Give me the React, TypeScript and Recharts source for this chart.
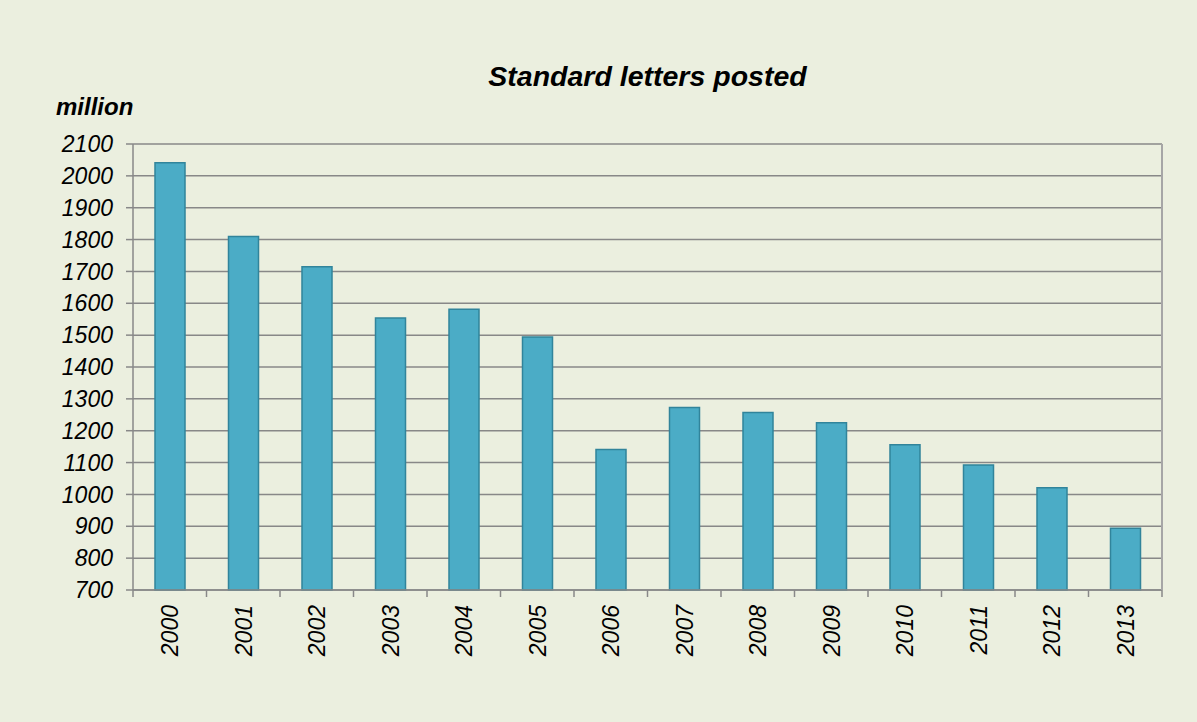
import React from 'react';
import { BarChart, Bar, XAxis, YAxis, CartesianGrid } from 'recharts';

const years = ['2000', '2001', '2002', '2003', '2004', '2005', '2006', '2007', '2008', '2009', '2010', '2011', '2012', '2013'];
const letters = [2041, 1810, 1715, 1554, 1581, 1494, 1141, 1273, 1257, 1225, 1156, 1092, 1021, 894];
const yTicks = [700, 800, 900, 1000, 1100, 1200, 1300, 1400, 1500, 1600, 1700, 1800, 1900, 2000, 2100];

const data = years.map((year, i) => ({ year, letters: letters[i] }));

const BG = '#ebefdf';
const GRID = '#888888';
const FONT = '"Liberation Sans", Arial, sans-serif';
const PLOT_W = 1197 - 133 - 35;

const YearTick = (props: any) => {
  const { x, y, payload, index } = props;
  const half = payload.offset || PLOT_W / years.length / 2;
  return (
    <g>
      <line x1={x - half} x2={x - half} y1={y} y2={y + 7} stroke={GRID} strokeWidth={1.5} />
      {index === years.length - 1 && (
        <line x1={x + half} x2={x + half} y1={y} y2={y + 7} stroke={GRID} strokeWidth={1.5} />
      )}
      <g transform={`translate(${x},${y + 15}) rotate(-90)`}>
        <text x={0} y={0} dy="0.36em" textAnchor="end" fontSize={23} fontStyle="italic" fill="#000" fontFamily={FONT}>
          {payload.value}
        </text>
      </g>
    </g>
  );
};

export default function App() {
  return (
    <div style={{ position: 'relative', width: 1197, height: 722, background: BG, fontFamily: FONT }}>
      <style>{'body{margin:0}'}</style>
      <div style={{ position: 'absolute', left: 0, width: 1295, top: 62, lineHeight: 1, fontSize: 28.5, fontWeight: 'bold', fontStyle: 'italic', textAlign: 'center' }}>
        Standard letters posted
      </div>
      <div style={{ position: 'absolute', left: 56, top: 95, lineHeight: 1, fontSize: 24, fontWeight: 'bold', fontStyle: 'italic' }}>
        million
      </div>
      <BarChart width={1197} height={722} data={data} margin={{ top: 144, right: 34, bottom: 0, left: 0 }}>
        <CartesianGrid vertical={false} stroke={GRID} strokeWidth={1.5} yAxisId="left" />
        <XAxis
          xAxisId="top"
          orientation="top"
          dataKey="year"
          height={0}
          tick={false}
          tickLine={false}
          axisLine={{ stroke: '#a6a6a6', strokeWidth: 2 }}
        />
        <XAxis
          xAxisId="cat"
          dataKey="year"
          height={132}
          tickLine={false}
          tickSize={0}
          tickMargin={0}
          axisLine={{ stroke: GRID, strokeWidth: 1.5 }}
          tick={<YearTick />}
          interval={0}
        />
        <YAxis
          yAxisId="left"
          width={133}
          domain={[700, 2100]}
          ticks={yTicks}
          interval={0}
          tickSize={7}
          tickMargin={13}
          tickLine={{ stroke: GRID, strokeWidth: 1.5 }}
          axisLine={{ stroke: GRID, strokeWidth: 1.5 }}
          tick={{ fill: '#000', fontSize: 23, fontStyle: 'italic', fontFamily: FONT }}
        />
        <YAxis
          yAxisId="right"
          orientation="right"
          width={1}
          domain={[700, 2100]}
          tick={false}
          tickLine={false}
          axisLine={{ stroke: '#a6a6a6', strokeWidth: 2 }}
        />
        <Bar
          xAxisId="cat"
          yAxisId="left"
          dataKey="letters"
          fill="#4bacc6"
          stroke="#31849b"
          strokeWidth={1.5}
          barSize={30}
          isAnimationActive={false}
        />
      </BarChart>
    </div>
  );
}
